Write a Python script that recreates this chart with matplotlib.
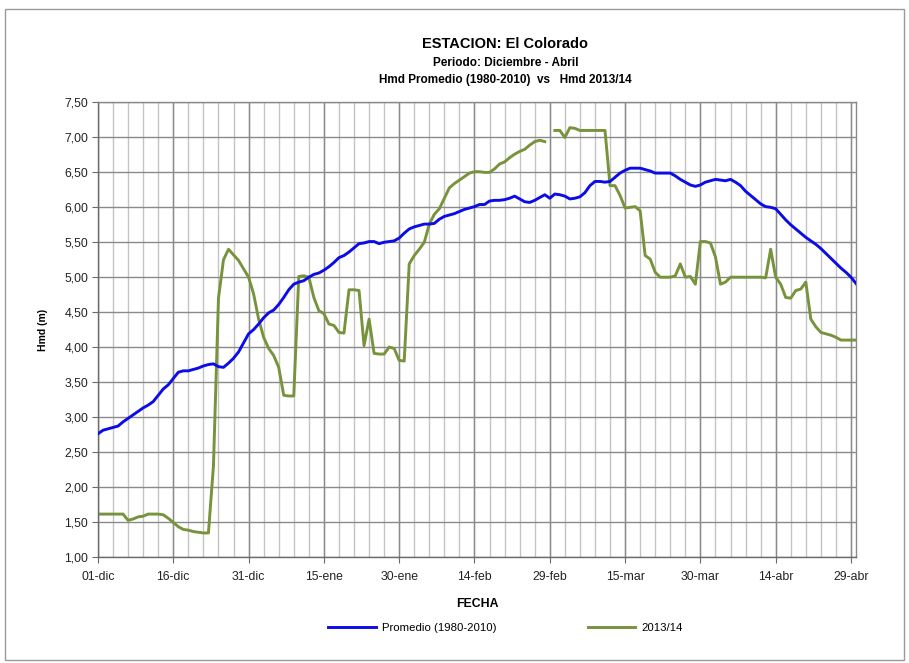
import numpy as np
import pandas as pd
import matplotlib
matplotlib.use('Agg')
import matplotlib.pyplot as plt
from matplotlib.patches import Rectangle
from matplotlib.ticker import FuncFormatter, MultipleLocator

plt.rcParams['font.family'] = ['Liberation Sans', 'DejaVu Sans']

# fechas diarias 01-dic .. 30-abr
fechas = pd.date_range('2011-12-01', '2012-04-30', freq='D')

# Hmd promedio 1980-2010 (m)
promedio = [
    2.76, 2.81, 2.83, 2.85, 2.87, 2.93, 2.98, 3.03, 3.08, 3.13,
    3.17, 3.22, 3.31, 3.40, 3.46, 3.55, 3.64, 3.66, 3.66, 3.68,
    3.70, 3.73, 3.75, 3.76, 3.72, 3.71, 3.77, 3.84, 3.93, 4.06,
    4.19, 4.25, 4.33, 4.42, 4.49, 4.53, 4.61, 4.71, 4.82, 4.90,
    4.93, 4.95, 5.00, 5.04, 5.06, 5.10, 5.15, 5.21, 5.28, 5.31,
    5.36, 5.42, 5.48, 5.49, 5.51, 5.51, 5.48, 5.50, 5.51, 5.52,
    5.56, 5.63, 5.69, 5.72, 5.74, 5.76, 5.76, 5.77, 5.83, 5.87,
    5.89, 5.91, 5.94, 5.97, 5.99, 6.01, 6.04, 6.04, 6.09, 6.10,
    6.10, 6.11, 6.13, 6.16, 6.12, 6.08, 6.07, 6.10, 6.14, 6.18,
    6.13, 6.19, 6.18, 6.16, 6.12, 6.13, 6.15, 6.21, 6.31, 6.37,
    6.37, 6.36, 6.37, 6.43, 6.49, 6.53, 6.56, 6.56, 6.56, 6.54,
    6.52, 6.49, 6.49, 6.49, 6.49, 6.45, 6.40, 6.36, 6.32, 6.30,
    6.32, 6.36, 6.38, 6.40, 6.39, 6.38, 6.40, 6.36, 6.31, 6.23,
    6.17, 6.11, 6.05, 6.01, 6.00, 5.98, 5.90, 5.82, 5.75, 5.69,
    5.63, 5.57, 5.52, 5.47, 5.41, 5.34, 5.27, 5.20, 5.13, 5.07,
    5.00, 4.91,
]

# Hmd temporada 2013/14 (m), sin dato el 29-feb
temporada = [
    1.61, 1.61, 1.61, 1.61, 1.61, 1.61, 1.52, 1.54, 1.57, 1.58,
    1.61, 1.61, 1.61, 1.60, 1.55, 1.49, 1.43, 1.39, 1.38, 1.36,
    1.35, 1.34, 1.34, 2.30, 4.70, 5.25, 5.40, 5.32, 5.24, 5.12,
    5.00, 4.76, 4.40, 4.14, 3.98, 3.88, 3.71, 3.31, 3.30, 3.30,
    5.01, 5.02, 5.00, 4.71, 4.52, 4.48, 4.33, 4.31, 4.21, 4.20,
    4.82, 4.82, 4.81, 4.02, 4.40, 3.91, 3.90, 3.90, 4.00, 3.98,
    3.81, 3.80, 5.19, 5.31, 5.40, 5.50, 5.76, 5.90, 5.98, 6.13,
    6.28, 6.34, 6.39, 6.44, 6.49, 6.51, 6.51, 6.50, 6.50, 6.55,
    6.62, 6.65, 6.71, 6.76, 6.80, 6.83, 6.89, 6.94, 6.96, 6.94,
    np.nan, 7.10, 7.10, 7.00, 7.14, 7.13, 7.10, 7.10, 7.10, 7.10,
    7.10, 7.10, 6.31, 6.31, 6.17, 5.99, 6.00, 6.01, 5.95, 5.31,
    5.26, 5.07, 5.00, 5.00, 5.00, 5.02, 5.19, 5.00, 5.01, 4.90,
    5.51, 5.51, 5.49, 5.29, 4.90, 4.93, 5.00, 5.00, 5.00, 5.00,
    5.00, 5.00, 5.00, 4.99, 5.40, 5.00, 4.90, 4.71, 4.70, 4.81,
    4.83, 4.93, 4.40, 4.29, 4.21, 4.19, 4.17, 4.14, 4.10, 4.10,
    4.10, 4.10,
]

etiquetas_x = ['01-dic', '16-dic', '31-dic', '15-ene', '30-ene', '14-feb',
               '29-feb', '15-mar', '30-mar', '14-abr', '29-abr']

df = pd.DataFrame({'Promedio (1980-2010)': promedio, '2013/14': temporada}, index=fechas)

fig = plt.figure(figsize=(9.09, 6.63), dpi=100)
ax = fig.add_axes([0.1078, 0.1603, 0.8339, 0.6851])

# marco del area del grafico
fig.patches.append(Rectangle((0.006, 0.004), 0.989, 0.982, transform=fig.transFigure,
                             fill=False, edgecolor='#9a9a9a', linewidth=1.0))

# grilla vertical cada 3 dias, mas marcada cada 15
for f in fechas[::3]:
    ax.axvline(f, color='#c4c4c4', linewidth=1.0, zorder=0)
for f in fechas[::15]:
    ax.axvline(f, color='#8a8a8a', linewidth=1.0, zorder=0)

ax.plot(df.index, df['Promedio (1980-2010)'], color='#0c0ce6', linewidth=2.1,
        label='Promedio (1980-2010)', zorder=3)
ax.plot(df.index, df['2013/14'], color='#77933c', linewidth=2.1,
        label='2013/14', zorder=2)

ax.set_xlim(fechas[0], fechas[-1])
ax.set_ylim(1.0, 7.5)
ax.yaxis.set_major_locator(MultipleLocator(0.5))
ax.yaxis.set_major_formatter(FuncFormatter(lambda v, p: f'{v:.2f}'.replace('.', ',')))
ax.set_xticks(fechas[::15])
ax.set_xticklabels(etiquetas_x)
ax.grid(axis='y', color='#8a8a8a', linewidth=1.0, zorder=0)

for s in ax.spines.values():
    s.set_color('#8a8a8a')
    s.set_linewidth(1.0)
ax.spines['left'].set_color('#6a6a6a')
ax.spines['bottom'].set_color('#6a6a6a')
ax.tick_params(axis='both', direction='out', length=4, color='#6a6a6a',
               labelsize=8.8, labelcolor='#222222', pad=3)
ax.tick_params(axis='x', pad=6)

ax.set_xlabel('FECHA', fontsize=8.8, fontweight='bold', labelpad=11)
ax.set_ylabel('Hmd (m)', fontsize=7.5, fontweight='bold', labelpad=12)

fig.text(0.556, 0.933, 'ESTACION: El Colorado', ha='center', va='center',
         fontsize=10.5, fontweight='bold')
fig.text(0.556, 0.905, 'Periodo: Diciembre - Abril', ha='center', va='center',
         fontsize=8.5, fontweight='bold')
fig.text(0.556, 0.879, 'Hmd Promedio (1980-2010)  vs   Hmd 2013/14', ha='center',
         va='center', fontsize=8.5, fontweight='bold')

fig.legend(loc='center', bbox_to_anchor=(0.556, 0.053), ncol=2, frameon=False,
           fontsize=8.2, handlelength=4.2, columnspacing=8.0, handletextpad=0.5)

plt.savefig('out.png', dpi=100)
